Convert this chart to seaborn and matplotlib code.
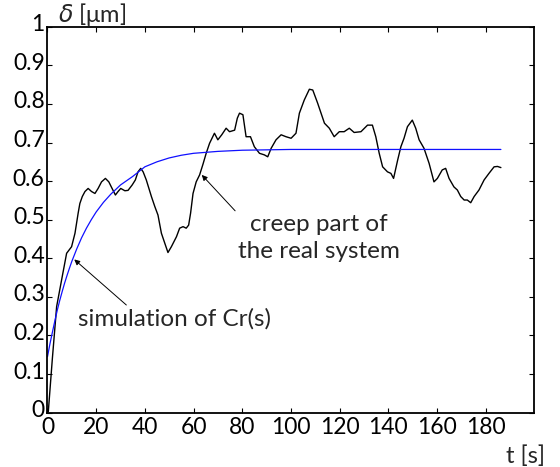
import numpy as np
import pandas as pd
import matplotlib
matplotlib.use("Agg")
import matplotlib.pyplot as plt
import matplotlib.transforms as mtransforms
import seaborn as sns

t_meas = [0.0, 0.34, 2.0, 3.76, 5.8, 7.86, 9.9, 11.3, 12.6, 13.3, 14.3, 15.4, 16.7, 18.1,
          19.5, 20.8, 22.2, 23.8, 25.2, 26.3, 27.9, 29.0, 30.1, 31.8, 33.1, 34.8, 36.1,
          37.2, 38.3, 39.3, 40.6, 42.7, 44.1, 45.4, 46.8, 48.2, 49.5, 50.9, 53.0, 54.3,
          55.7, 57.0, 58.0, 58.8, 59.8, 61.1, 62.5, 63.9, 65.2, 66.6, 68.6, 70.0, 71.6,
          73.4, 74.8, 76.9, 78.0, 78.9, 80.3, 81.6, 83.4, 85.0, 87.1, 89.1, 90.5, 91.9,
          93.9, 96.0, 98.0, 100.1, 102.1, 103.5, 105.5, 107.6, 109.0, 111.0, 113.8,
          115.8, 117.8, 119.9, 121.9, 124.0, 126.0, 128.8, 131.5, 133.5, 134.9, 136.3,
          137.7, 139.7, 141.1, 142.2, 143.9, 145.2, 146.5, 147.9, 149.9, 151.3, 152.7,
          154.7, 156.8, 158.8, 160.2, 162.2, 163.6, 165.0, 167.0, 168.4, 169.8, 171.2,
          172.5, 173.9, 175.3, 177.3, 179.4, 181.4, 183.5, 184.9, 186.3]
d_meas = [0.0, 0.003, 0.14, 0.275, 0.344, 0.413, 0.43, 0.465, 0.517, 0.542, 0.56, 0.573,
          0.581, 0.573, 0.568, 0.581, 0.598, 0.607, 0.598, 0.584, 0.564, 0.573, 0.581,
          0.575, 0.576, 0.59, 0.603, 0.624, 0.633, 0.624, 0.603, 0.56, 0.534, 0.512,
          0.465, 0.439, 0.415, 0.43, 0.456, 0.478, 0.482, 0.478, 0.486, 0.517, 0.568,
          0.598, 0.616, 0.644, 0.672, 0.698, 0.724, 0.707, 0.72, 0.737, 0.728, 0.732,
          0.763, 0.776, 0.772, 0.715, 0.715, 0.689, 0.672, 0.668, 0.663, 0.685, 0.707,
          0.72, 0.715, 0.711, 0.724, 0.776, 0.81, 0.838, 0.836, 0.802, 0.75, 0.737,
          0.715, 0.728, 0.728, 0.737, 0.726, 0.728, 0.745, 0.745, 0.715, 0.672, 0.637,
          0.624, 0.62, 0.607, 0.655, 0.689, 0.711, 0.741, 0.758, 0.737, 0.707, 0.685,
          0.646, 0.598, 0.607, 0.629, 0.633, 0.607, 0.585, 0.577, 0.56, 0.551, 0.551,
          0.544, 0.56, 0.577, 0.603, 0.62, 0.637, 0.638, 0.635]

# simulated Cr(s) response (blue)
t_sim = [0, 1, 2, 3, 4, 5, 6, 7, 8, 9, 10, 12, 14, 16, 18, 20, 23, 26, 30, 35, 40, 45,
         50, 55, 60, 70, 80, 90, 100, 120, 150, 186.3]
d_sim = [0.145, 0.178, 0.208, 0.237, 0.265, 0.29, 0.313, 0.335, 0.355, 0.374, 0.392,
         0.424, 0.453, 0.478, 0.5, 0.52, 0.545, 0.566, 0.59, 0.612, 0.637, 0.65, 0.66,
         0.667, 0.672, 0.677, 0.68, 0.681, 0.682, 0.682, 0.682, 0.682]

x_ticks = [0, 20, 40, 60, 80, 100, 120, 140, 160, 180]
y_ticks = [0, 0.1, 0.2, 0.3, 0.4, 0.5, 0.6, 0.7, 0.8, 0.9, 1]
y_tick_labels = ["0", "0.1", "0.2", "0.3", "0.4", "0.5", "0.6", "0.7", "0.8", "0.9", "1"]

meas = pd.DataFrame({"t": t_meas, "d": d_meas})
sim = pd.DataFrame({"t": t_sim, "d": d_sim})

sns.set_style("ticks")
plt.rcParams["font.family"] = ["Lato", "DejaVu Sans"]
plt.rcParams["mathtext.fontset"] = "dejavusans"

fig = plt.figure(figsize=(5.6, 4.67), dpi=100)
ax = fig.add_axes([0.0848, 0.1163, 0.954 - 0.0848, 0.9428 - 0.1163])

sns.lineplot(data=meas, x="t", y="d", color="black", linewidth=1.0, ax=ax)
sns.lineplot(data=sim, x="t", y="d", color="#1010ff", linewidth=0.9, ax=ax)

ax.set_xlim(0, 200)
ax.set_ylim(0, 1)
ax.set_xticks(x_ticks)
ax.set_xticklabels([str(v) for v in x_ticks])
ax.set_yticks(y_ticks)
ax.set_yticklabels(y_tick_labels)
ax.tick_params(direction="in", length=3.5, width=0.8, top=True, right=True,
               labelsize=16.5, pad=2, colors="black")
ax.tick_params(axis="x", pad=3)
for s in ax.spines.values():
    s.set_linewidth(1.3)
    s.set_color("black")
ax.set_xlabel("")
ax.set_ylabel("")

# y labels sit a little above their ticks, as in the original
shift = mtransforms.ScaledTranslation(0, 4 / 100, fig.dpi_scale_trans)
for lab in ax.get_yticklabels():
    lab.set_transform(lab.get_transform() + shift)

fig.text(58 / 560, 1 - 15 / 467, r"$\delta$ [μm]", fontsize=17, va="center", ha="left")
fig.text(545 / 560, 1 - 456 / 467, "t [s]", fontsize=17, va="center", ha="right")

ax.annotate("", xy=(11.0, 0.397), xytext=(32.4, 0.279),
            arrowprops=dict(arrowstyle="-|>", color="black", lw=0.7,
                            mutation_scale=8, shrinkA=0, shrinkB=0))
ax.annotate("", xy=(63.4, 0.616), xytext=(77.1, 0.523),
            arrowprops=dict(arrowstyle="-|>", color="black", lw=0.7,
                            mutation_scale=8, shrinkA=0, shrinkB=0))

fig.text(78 / 560, 1 - 319 / 467, "simulation of Cr(s)", fontsize=17.5, va="center", ha="left")
fig.text(319 / 560, 1 - 238 / 467, "creep part of\nthe real system", fontsize=17.5,
         va="center", ha="center", linespacing=1.3)

fig.savefig("out.png", dpi=100)
